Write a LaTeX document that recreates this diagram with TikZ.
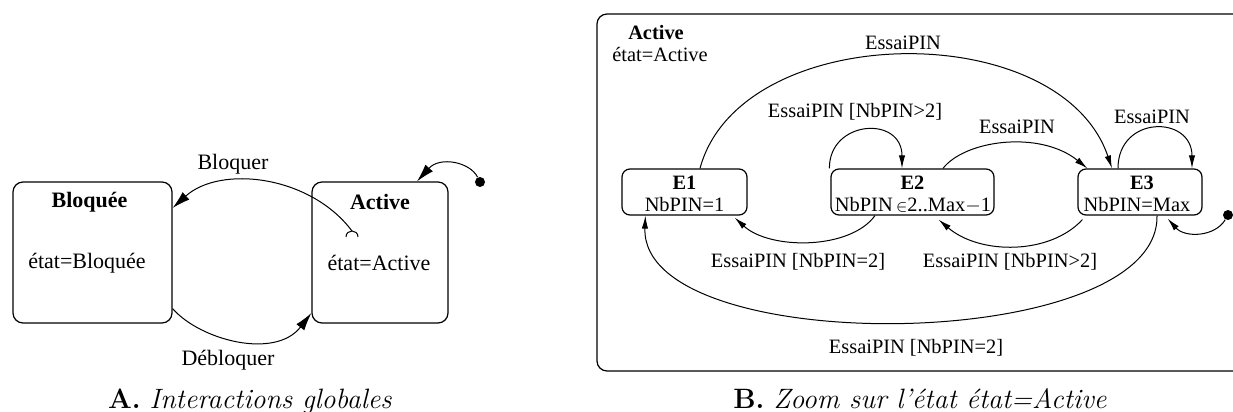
\documentclass[tikz,border=0pt]{standalone}
\usepackage{fontspec}
\newfontfamily\tnr{Liberation Serif}
\usetikzlibrary{arrows.meta}
\begin{document}
\begin{tikzpicture}[x=0.5pt,y=-0.5pt,
 lab/.style={font=\tnr\fontsize{11}{13}\selectfont, inner sep=0pt},
 labb/.style={font=\tnr\fontsize{10.2}{12}\selectfont, inner sep=0pt},
 sbox/.style={draw, rounded corners=5pt, line width=0.6pt, inner sep=0pt},
 ebox/.style={draw, rounded corners=4pt, line width=0.6pt, inner sep=0pt, minimum height=23pt},
 arrA/.style={line width=0.5pt, -{Latex[length=9pt,width=5pt]}},
 arrB/.style={line width=0.5pt, -{Latex[length=6.5pt,width=3.2pt]}},
 dot/.style={circle, fill=black, inner sep=0pt, minimum size=5pt},
 capt/.style={font=\fontsize{14}{16}\selectfont, inner sep=0pt, anchor=base}]
\useasboundingbox (0,0) rectangle (1233,412);
\clip (0,0) rectangle (1233,412);

% ---------------- Panel A ----------------
\node[sbox, minimum width=79.5pt, minimum height=70.5pt] (Bl) at (92.5,252.5) {};
\node[sbox, minimum width=68pt, minimum height=70.5pt] (ActA) at (380,252.5) {};
\node[lab, font=\tnr\bfseries\fontsize{11}{13}\selectfont] (BlT) at (89.5,202) {Bloquée};
\node[lab] (BlS) at (87,263) {état=Bloquée};
\node[lab, font=\tnr\bfseries\fontsize{11}{13}\selectfont] (ActAT) at (380,202) {Active};
\node[lab] (ActAS) at (379,263) {état=Active};
\node[dot] (iniA) at (480,182) {};

% Bloquer (with cap symbol at its start)
\coordinate (blqS) at ([shift={(-28,-21.5)}]ActA.center);
\draw[line width=0.5pt] ([shift={(-34,-15.5)}]ActA.center) .. controls ([shift={(-34,-23.5)}]ActA.center) and ([shift={(-22,-23.5)}]ActA.center) .. ([shift={(-22,-15.5)}]ActA.center);
\draw[arrA] (blqS) .. controls (310,175) and (220,165) .. ([shift={(0,-44.5)}]Bl.east);
\node[lab] (lBlq) at (233,164) {Bloquer};

% Debloquer
\draw[arrA] ([shift={(0,-15)}]Bl.south east) .. controls (200,340) and (275,360) .. ([shift={(0,60.5)}]ActA.west);
\node[lab] (lDeb) at (228,360) {Débloquer};

% initial A
\draw[arrA] (iniA) .. controls (470,162) and (440,156) .. ([shift={(37,0)}]ActA.north);

\node[capt] (captA) at (250,408) {\textbf{A.} \textit{Interactions globales}};

% ---------------- Panel B ----------------
\node[sbox, minimum width=331.5pt, minimum height=178.5pt] (ActB) at (928.5,192.5) {};
\node[labb, font=\tnr\bfseries\fontsize{10.2}{12}\selectfont] (ActBT) at (656,33) {Active};
\node[labb] (ActBS) at (660,55) {état=Active};

\node[ebox, minimum width=62.5pt] (E1) at (684.5,192) {};
\node[ebox, minimum width=81.5pt] (E2) at (912.5,192) {};
\node[ebox, minimum width=62pt] (E3) at (1140,192) {};
\node[labb, font=\tnr\bfseries\fontsize{10.2}{12}\selectfont] (E1T) at (684.5,183) {E1};
\node[labb] (E1S) at (684.5,205) {NbPIN=1};
\node[labb, font=\tnr\bfseries\fontsize{10.2}{12}\selectfont] (E2T) at (912.5,183) {E2};
\node[labb] (E2S) at (913,205.5) {NbPIN\,{\footnotesize$\in$}2..Max$-$1};
\node[labb, font=\tnr\bfseries\fontsize{10.2}{12}\selectfont] (E3T) at (1142,183) {E3};
\node[labb] (E3S) at (1137,205) {NbPIN=Max};
\node[dot] (iniB) at (1228,215) {};

% E1 -> E3 (top)
\draw[arrB] ([shift={(15.5,0)}]E1.north) .. controls (740,20) and (1060,15) .. ([shift={(-28,0)}]E3.north);
\node[labb] (l1) at (903,43) {EssaiPIN};
% E2 self loop
\draw[arrB] ([shift={(-1,0)}]E2.north west) .. controls (829,120) and (902,115) .. ([shift={(-10.5,0)}]E2.north);
\node[labb] (l2) at (855,112) {EssaiPIN [NbPIN>2]};
% E2 -> E3
\draw[arrB] ([shift={(30.5,0)}]E2.north) .. controls (965,140) and (1040,130) .. ([shift={(10,0)}]E3.north west);
\node[labb] (l3) at (1017,127) {EssaiPIN};
% E3 self loop
\draw[arrB] ([shift={(-22,0)}]E3.north) .. controls (1118,115) and (1192,115) .. ([shift={(52,0)}]E3.north);
\node[labb] (l4) at (1152,117) {EssaiPIN};
% E2 -> E1
\draw[arrB] ([shift={(-37.5,0)}]E2.south) .. controls (850,250) and (770,250) .. ([shift={(-13,2)}]E1.south east);
\node[labb] (l5) at (798,262) {EssaiPIN [NbPIN=2]};
% E3 -> E2
\draw[arrB] ([shift={(5,4)}]E3.south west) .. controls (1050,255) and (980,255) .. ([shift={(-56,4)}]E2.south east);
\node[labb] (l6) at (1010,262) {EssaiPIN [NbPIN>2]};
% E3 -> E1 (bottom)
\draw[arrB] ([shift={(17,0)}]E3.south) .. controls (1160,355) and (640,360) .. ([shift={(24,0)}]E1.south west);
\node[labb] (l7) at (916,348) {EssaiPIN [NbPIN=2]};
% initial B
\draw[arrB] (iniB) .. controls (1215,237) and (1185,238) .. ([shift={(-35,3)}]E3.south east);

\node[capt] (captB) at (920,408) {\textbf{B.} \textit{Zoom sur l'état état=Active}};
\end{tikzpicture}
\end{document}
